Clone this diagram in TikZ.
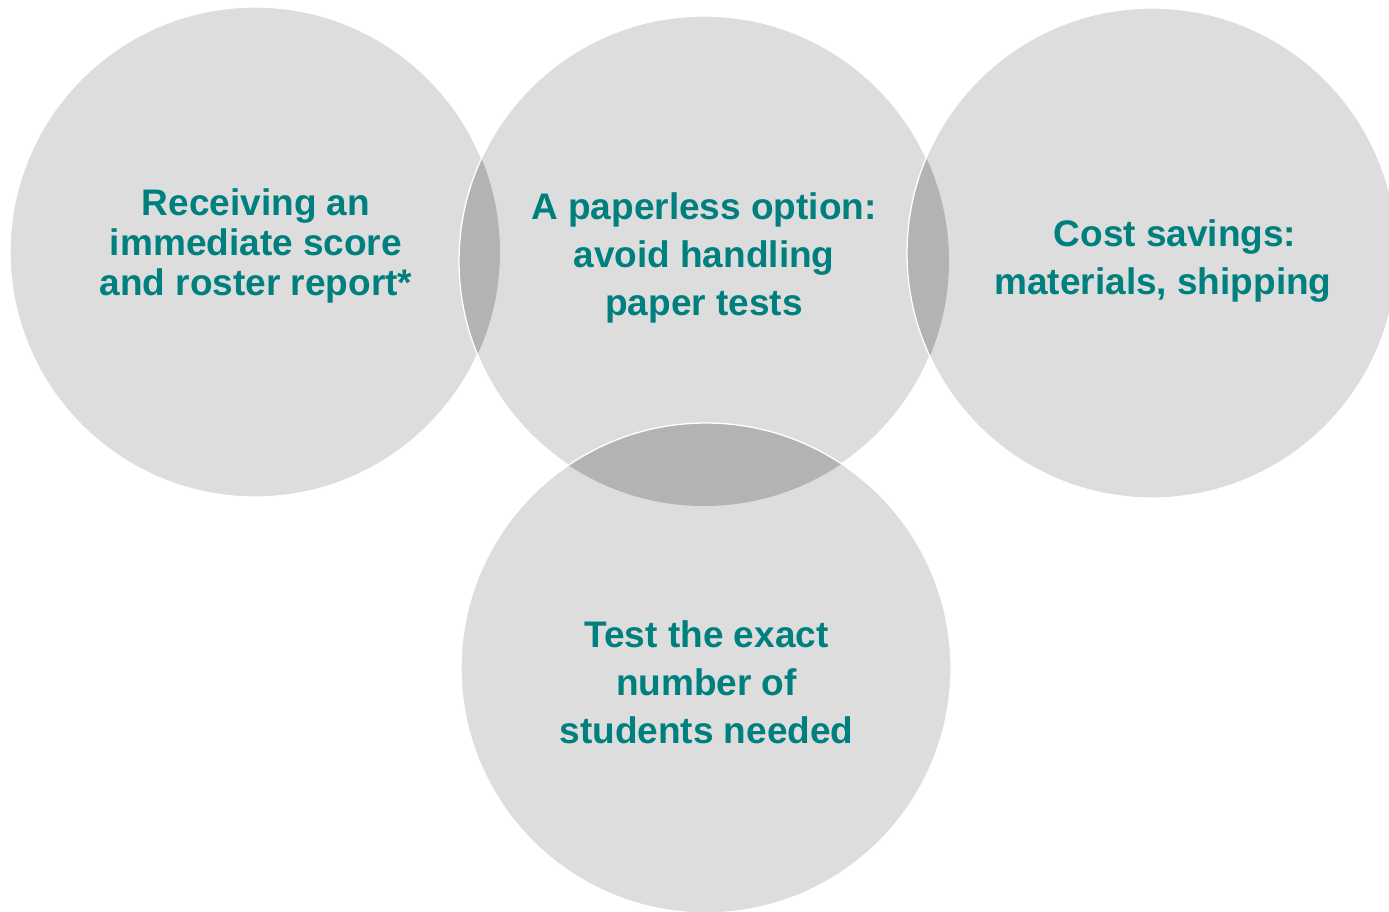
\documentclass[tikz,border=0pt]{standalone}
\usepackage{fontspec}
\setmainfont{Liberation Sans}
\definecolor{lightg}{HTML}{DDDDDD}
\definecolor{darkg}{HTML}{B3B3B3}
\definecolor{tealtxt}{RGB}{0,127,127}
\begin{document}
\begin{tikzpicture}[x=1pt,y=-1pt,
  disc/.style={fill=lightg},
  rim/.style={draw=white, line width=1.3pt},
  lens/.style={fill=darkg},
  lbl/.style={font=\bfseries\fontsize{37}{48}\selectfont, text=tealtxt, align=center, inner sep=0pt}]
\useasboundingbox (0,0) rectangle (1389,911);
\clip (0,0) rectangle (1389,911);
\def\rad{245}
\coordinate (cL) at (255,252);
\coordinate (cM) at (704,261);
\coordinate (cR) at (1152,253);
\coordinate (cB) at (706,668);
% left circle
\fill[disc] (cL) circle[radius=\rad];
\draw[rim] (cL) circle[radius=\rad];
% middle circle
\fill[disc] (cM) circle[radius=\rad];
\begin{scope}
  \clip (cL) circle[radius=\rad];
  \fill[lens] (cM) circle[radius=\rad];
\end{scope}
\draw[rim] (cM) circle[radius=\rad];
% right circle
\fill[disc] (cR) circle[radius=\rad];
\begin{scope}
  \clip (cM) circle[radius=\rad];
  \fill[lens] (cR) circle[radius=\rad];
\end{scope}
\draw[rim] (cR) circle[radius=\rad];
% bottom circle
\fill[disc] (cB) circle[radius=\rad];
\begin{scope}
  \clip (cM) circle[radius=\rad];
  \fill[lens] (cB) circle[radius=\rad];
\end{scope}
\draw[rim] (cB) circle[radius=\rad];
% labels
\node[lbl, font=\bfseries\fontsize{37}{40}\selectfont] (tL) at (256,245.5) {Receiving an\\immediate score\\and roster report*};
\node[lbl] (tM) at (704,258) {A paperless option:\\avoid handling\\paper tests};
\node[lbl] (tR) at (1163,261.5) {\hspace*{24pt}Cost savings:\\materials, shipping};
\node[lbl] (tB) at (706.5,682) {Test the exact\\number of\\students needed};
\end{tikzpicture}
\end{document}
